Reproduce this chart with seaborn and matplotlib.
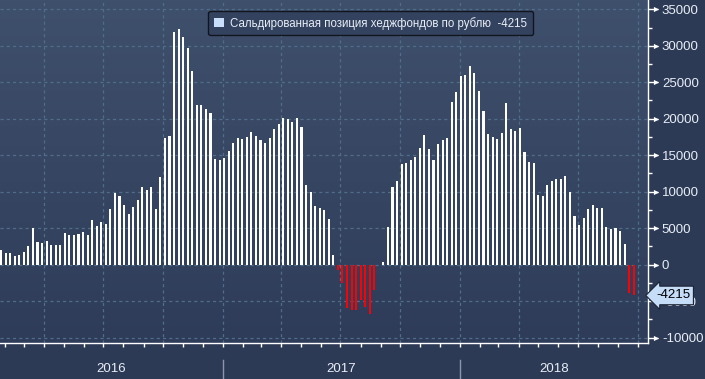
import numpy as np
import pandas as pd
import matplotlib
matplotlib.use("Agg")
import matplotlib.pyplot as plt
import matplotlib.dates as mdates
import matplotlib.transforms as mtransforms
from matplotlib.patches import Patch
from matplotlib.ticker import MultipleLocator
import seaborn as sns

# weekly net hedge-fund position on the rouble (CFTC), Tuesdays
start_date = "2016-01-26"
net_position = [
    2050, 1640, 1640, 1230, 1370, 1780, 2600, 5060, 3150, 3010,
    3280, 2730, 2730, 2730, 4380, 4100, 4100, 4240, 4510, 4100,
    6150, 5330, 5880, 5610, 7660, 9850, 9440, 8200, 6970,
    7930, 8890, 10670, 10260, 10670, 7660, 12030, 17370, 17640, 31860,
    32270, 31180, 29670, 26530, 21880, 21880, 21330, 20790, 14500, 14360,
    14630, 15590, 16680, 17370, 17230, 17500, 18190,
    17640, 17090, 16680, 17370, 18600, 19280, 20100, 19960, 19550, 20100,
    18870, 10940, 9980, 8070, 7790, 7520, 6290, 1370, -680, -2460,
    -5930, -6200, -6200, -4790, -5830, -6750, -3460, -100,
    410, 5230, 10600, 11420, 13760, 13900, 14310, 14720, 15960, 17750,
    15830, 14310, 16510, 17060, 17340, 22290, 23670, 25870, 26010, 27250,
    26280, 23810, 21060, 17890, 17480, 17200, 18030, 22160, 18580,
    18300, 18720, 15410, 14040, 13900, 9500, 9360, 10870, 11420, 11700,
    11700, 12110, 9910, 6740, 5500, 6330, 7570, 8120, 7710, 7710,
    5230, 4950, 5090, 4680, 2890, -3850, -4215,
]
years = ["2016", "2017", "2018"]
legend_label = "Сальдированная позиция хеджфондов по рублю  -4215"
last_value = net_position[-1]

dates = pd.date_range(start_date, periods=len(net_position), freq="7D")
df = pd.DataFrame({
    "date": mdates.date2num(dates),
    "value": net_position,
    "sign": ["pos" if v >= 0 else "neg" for v in net_position],
})

plt.rcParams["font.family"] = ["Liberation Sans", "DejaVu Sans"]
plt.rcParams["axes.unicode_minus"] = False

fig_bg = "#2d3a56"
text_col = "#e8eef6"
grid_col = "#4f6d88"

fig = plt.figure(figsize=(7.05, 3.79), dpi=100, facecolor=fig_bg)
ax = fig.add_axes([0, 36 / 379, 648 / 705, 343 / 379])
ax.set_facecolor(fig_bg)

# gradient background of the plot area
grad = np.linspace(0, 1, 256).reshape(-1, 1)
cmap = matplotlib.colors.LinearSegmentedColormap.from_list("bg", ["#3f506c", "#2e3c59"])
ax.imshow(grad, cmap=cmap, aspect="auto", extent=[0, 1, 0, 1],
          transform=ax.transAxes, zorder=0)

sns.barplot(data=df, x="date", y="value", hue="sign",
            palette={"pos": "#ffffff", "neg": "#ff0000"}, saturation=1,
            native_scale=True, dodge=False, width=0.46,
            errorbar=None, legend=False, linewidth=0, ax=ax, zorder=3)

x0 = mdates.date2num(pd.Timestamp("2016-01-24 06:00"))
x1 = mdates.date2num(pd.Timestamp("2018-10-17"))
ax.set_xlim(x0, x1)
ax.set_ylim(-10730, 36270)

# axes styling
for s in ["top", "left"]:
    ax.spines[s].set_visible(False)
for s in ["right", "bottom"]:
    ax.spines[s].set_color("white")
    ax.spines[s].set_linewidth(1)

ax.yaxis.tick_right()
ax.yaxis.set_major_locator(MultipleLocator(5000))
ax.yaxis.set_minor_locator(MultipleLocator(2500))
ax.tick_params(axis="y", which="major", length=7, width=1, color="white",
               labelcolor=text_col, labelsize=9.5, pad=3)
ax.tick_params(axis="y", which="minor", length=3, width=1, color="white")

ax.xaxis.set_major_locator(mdates.MonthLocator(bymonth=[1, 4, 7, 10]))
ax.xaxis.set_minor_locator(mdates.MonthLocator())
ax.tick_params(axis="x", which="both", length=3, width=1, color="white",
               labelbottom=False)
ax.set_xlabel("")
ax.set_ylabel("")

ax.grid(True, which="major", color=grid_col, linestyle=(0, (2.5, 2.5)),
        linewidth=0.9, zorder=1)
ax.set_axisbelow(True)

# arrow heads on the major y ticks
blend = mtransforms.blended_transform_factory(ax.transAxes, ax.transData)
ticks_y = np.arange(-10000, 35001, 5000)
ax.scatter(np.full(len(ticks_y), 1.0 + 8 / 648), ticks_y, marker=">", s=14,
           color="white", transform=blend, clip_on=False, zorder=5, linewidths=0)

# year labels and separators
blend_x = mtransforms.blended_transform_factory(ax.transData, ax.transAxes)
year_bounds = [x0] + [mdates.date2num(pd.Timestamp(f"{y}-01-01")) for y in years[1:]] + [x1]
for i, y in enumerate(years):
    ax.text((year_bounds[i] + year_bounds[i + 1]) / 2, -0.075, y, transform=blend_x,
            ha="center", va="center", color=text_col, fontsize=9.5, clip_on=False)
for b in year_bounds[1:-1]:
    ax.plot([b, b], [-0.05, -0.103], transform=blend_x, color="#8c96a8",
            linewidth=1, clip_on=False)

# legend
leg = ax.legend(handles=[Patch(facecolor="#c8defa", edgecolor="none", label=legend_label)],
                loc="upper center", bbox_to_anchor=(0.572, 0.985), frameon=True,
                fontsize=8.3, handlelength=0.9, handleheight=0.9, handletextpad=0.5,
                borderpad=0.5, fancybox=True)
leg.get_frame().set_facecolor("#33425e")
leg.get_frame().set_edgecolor("#10151f")
leg.get_frame().set_alpha(1)
for t in leg.get_texts():
    t.set_color(text_col)

# last value tag on the right axis
ax.text(1.0 + 8 / 648, last_value, f"{last_value}", transform=blend, ha="left",
        va="center", fontsize=9.5, color="black", zorder=6, clip_on=False,
        bbox=dict(boxstyle="larrow,pad=0.25", facecolor="#c5ddf7", edgecolor="#1a2233",
                  linewidth=0.8))

fig.savefig("out.png", dpi=100, facecolor=fig_bg)
